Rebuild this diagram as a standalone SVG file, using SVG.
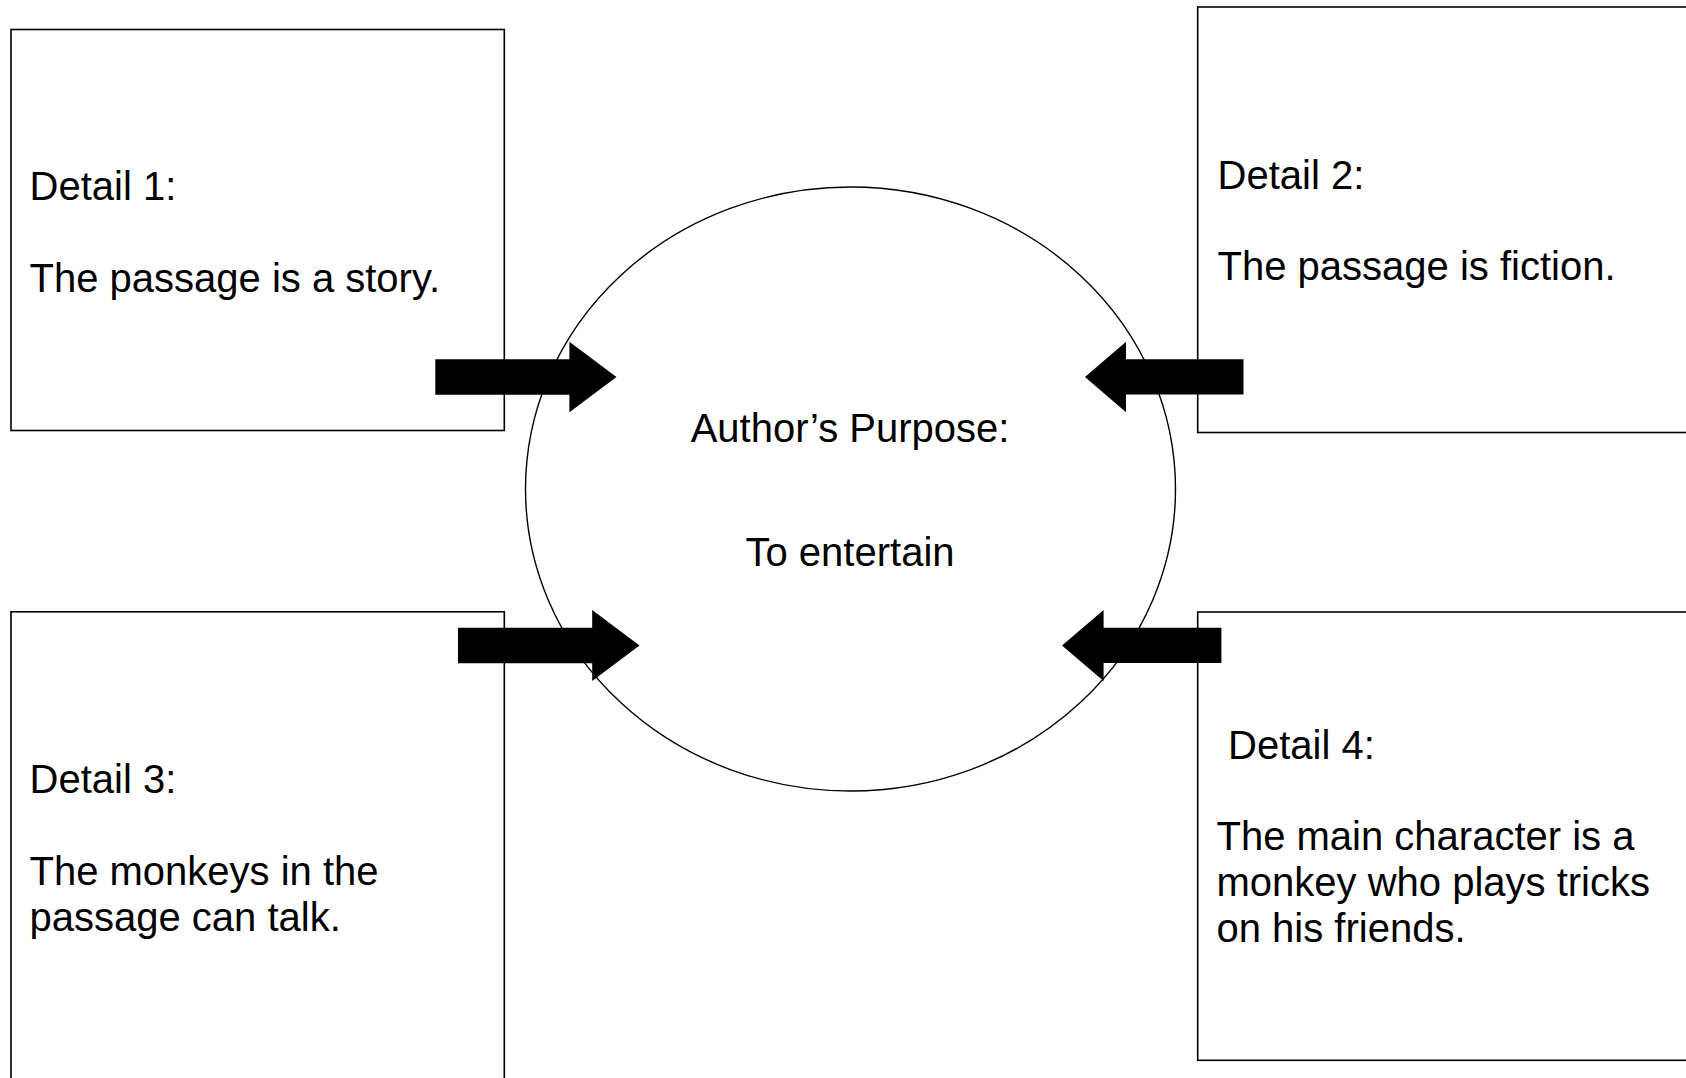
<svg xmlns="http://www.w3.org/2000/svg" width="1686" height="1078" viewBox="0 0 1686 1078">
  <style>
    .box { fill: #ffffff; stroke: #000000; stroke-width: 1.6; }
    .hub { fill: #ffffff; stroke: #000000; stroke-width: 1.4; }
    .txt { font-family: "Liberation Sans", Arial, sans-serif; font-size: 40px; fill: #000000; }
    .mid { text-anchor: middle; }
    .arrow { fill: #000000; stroke: none; }
  </style>
  <rect width="1686" height="1078" fill="#ffffff"/>

  <g id="detail1">
    <rect class="box" x="11" y="29.5" width="493.3" height="401"/>
    <text class="txt" x="29.5" y="200">Detail 1:</text>
    <text class="txt" x="29.5" y="291.5">The passage is a story.</text>
  </g>

  <g id="detail2">
    <rect class="box" x="1197.7" y="7" width="500" height="425.5"/>
    <text class="txt" x="1217.5" y="188.5">Detail 2:</text>
    <text class="txt" x="1217.5" y="280">The passage is fiction.</text>
  </g>

  <g id="detail3">
    <rect class="box" x="11" y="611.8" width="493.3" height="480"/>
    <text class="txt" x="29.5" y="792.5">Detail 3:</text>
    <text class="txt" x="29.5" y="885">The monkeys in the</text>
    <text class="txt" x="29.5" y="931">passage can talk.</text>
  </g>

  <g id="detail4">
    <rect class="box" x="1197.7" y="612" width="500" height="448.3"/>
    <text class="txt" x="1228" y="758.5">Detail 4:</text>
    <text class="txt" x="1216.5" y="850">The main character is a</text>
    <text class="txt" x="1216.5" y="896">monkey who plays tricks</text>
    <text class="txt" x="1216.5" y="942">on his friends.</text>
  </g>

  <g id="purpose">
    <ellipse class="hub" cx="850.5" cy="489" rx="325" ry="302"/>
    <text class="txt mid" x="850" y="442">Author’s Purpose:</text>
    <text class="txt mid" x="850" y="566">To entertain</text>
  </g>

  <g id="connectors">
    <polygon class="arrow" points="435.3,359.3 569.4,359.3 569.4,341.7 616.5,377 569.4,412.3 569.4,394.7 435.3,394.7"/>
    <polygon class="arrow" points="1243.5,359.3 1126,359.3 1126,341.7 1085,377 1126,412.3 1126,394.5 1243.5,394.5"/>
    <polygon class="arrow" points="458,627.7 592.2,627.7 592.2,610 639.5,645.5 592.2,681 592.2,663.3 458,663.3"/>
    <polygon class="arrow" points="1221.4,627.7 1103.6,627.7 1103.6,610 1062,645.5 1103.6,681 1103.6,663 1221.4,663"/>
  </g>
</svg>
